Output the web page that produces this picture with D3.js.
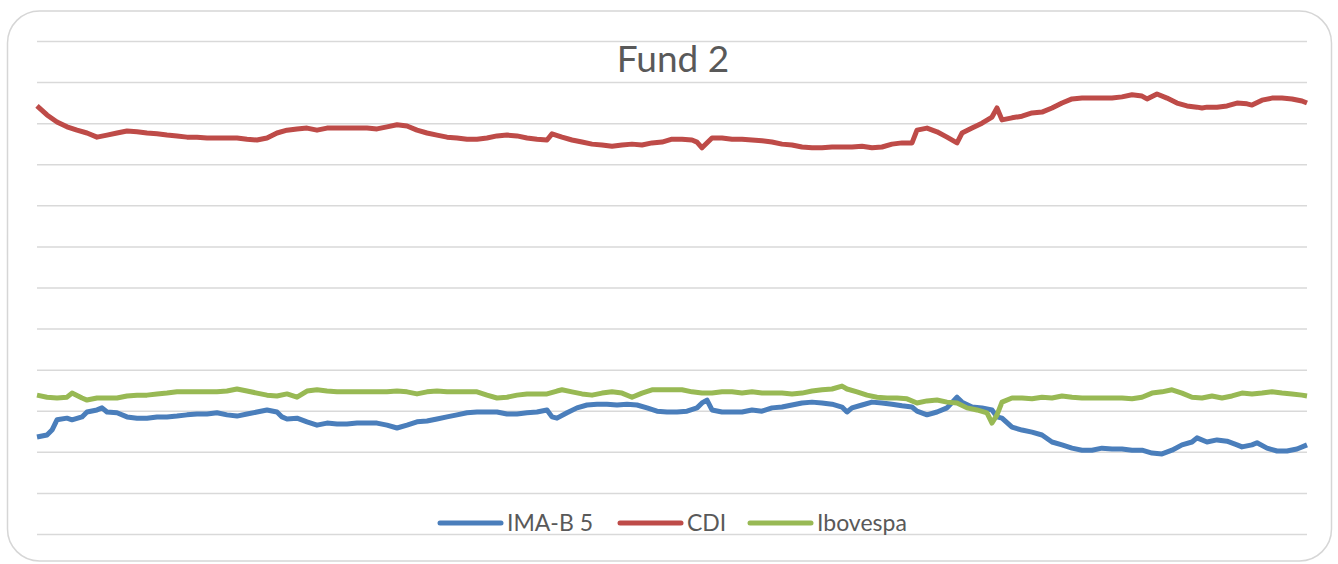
<!DOCTYPE html>
<html>
<head>
<meta charset="utf-8">
<script src="https://cdn.jsdelivr.net/npm/d3@7"></script>
<style>
  body { margin: 0; background: #fff; }
  svg { display: block; }
</style>
</head>
<body>
<svg id="board" width="1338" height="564"></svg>
<script>
// chart title and series names
let title = 'Fund 2'
let seriesNames = ['IMA-B 5', 'CDI', 'Ibovespa']
let seriesColors = ['#4a7ebb', '#be4b48', '#98b954']

// gridline values (no labels shown on the chart)
let gridTicks = d3.range(0, 121, 10)

// [day, value]
let imab5 = [
  [0,23.6],[2,24.1],[3,25.3],[4,27.8],[6,28.2],[7,27.8],[9,28.5],[10,29.7],[12,30.2],[13,30.7],
  [14,29.7],[16,29.5],[18,28.5],[20,28.2],[22,28.2],[24,28.5],[26,28.5],[28,28.7],[30,29.0],[32,29.2],
  [34,29.2],[36,29.5],[38,29.0],[40,28.7],[42,29.2],[44,29.7],[46,30.2],[48,29.7],[49,28.5],[50,28.0],
  [52,28.2],[54,27.3],[56,26.5],[58,27.0],[60,26.8],[62,26.8],[64,27.0],[66,27.0],[68,27.0],[70,26.5],
  [72,25.8],[74,26.5],[76,27.3],[78,27.5],[80,28.0],[82,28.5],[84,29.0],[86,29.5],[88,29.7],[90,29.7],
  [92,29.7],[94,29.2],[96,29.2],[98,29.5],[100,29.7],[102,30.2],[103,28.5],[104,28.2],[106,29.5],[108,30.7],
  [110,31.4],[112,31.6],[114,31.6],[116,31.4],[118,31.6],[120,31.4],[122,30.7],[124,29.9],[126,29.7],[128,29.7],
  [130,29.9],[132,30.7],[133,31.9],[134,32.6],[135,30.2],[137,29.7],[139,29.7],[141,29.7],[143,30.2],[145,29.9],
  [147,30.7],[149,30.9],[151,31.4],[153,31.9],[155,32.1],[157,31.9],[159,31.6],[161,30.9],[162,29.7],[163,30.7],
  [165,31.4],[167,32.1],[169,31.9],[171,31.6],[173,31.2],[175,30.9],[176,29.9],[178,29.0],[180,29.7],[182,30.7],
  [184,33.3],[185,32.1],[187,30.9],[189,30.7],[191,30.2],[192,28.5],[193,28.2],[195,26.0],[197,25.3],[199,24.8],
  [201,24.1],[203,22.4],[205,21.7],[207,20.9],[209,20.4],[211,20.4],[213,20.9],[215,20.7],[217,20.7],[219,20.4],
  [221,20.4],[223,19.7],[225,19.5],[227,20.4],[229,21.7],[231,22.4],[232,23.4],[234,22.4],[236,22.9],[238,22.6],
  [240,21.7],[241,21.2],[243,21.7],[244,22.2],[246,20.9],[248,20.2],[250,20.2],[252,20.7],[254,21.7]
]

let cdi = [
  [0,104.2],[2,102.0],[4,100.3],[6,99.1],[8,98.3],[10,97.6],[12,96.6],[14,97.1],[16,97.6],[18,98.1],
  [20,97.9],[22,97.6],[24,97.4],[26,97.1],[28,96.9],[30,96.6],[32,96.6],[34,96.4],[36,96.4],[38,96.4],
  [40,96.4],[42,96.1],[44,95.9],[46,96.4],[48,97.6],[50,98.3],[52,98.6],[54,98.8],[56,98.3],[58,98.8],
  [60,98.8],[62,98.8],[64,98.8],[66,98.8],[68,98.6],[70,99.1],[72,99.6],[74,99.3],[76,98.3],[78,97.6],
  [80,97.1],[82,96.6],[84,96.4],[86,96.1],[88,96.1],[90,96.4],[92,96.9],[94,97.1],[96,96.9],[98,96.4],
  [100,96.1],[102,95.9],[103,97.4],[105,96.6],[107,95.9],[109,95.4],[111,94.9],[113,94.7],[115,94.4],[117,94.7],
  [119,94.9],[121,94.7],[123,95.2],[125,95.4],[127,96.1],[129,96.1],[131,95.9],[132,95.4],[133,94.0],[135,96.4],
  [137,96.4],[139,96.1],[141,96.1],[143,95.9],[145,95.7],[147,95.4],[149,94.9],[151,94.7],[153,94.2],[155,94.0],
  [157,94.0],[159,94.2],[161,94.2],[163,94.2],[165,94.4],[167,94.0],[169,94.2],[171,94.9],[173,95.2],[175,95.2],
  [176,98.3],[178,98.8],[180,97.9],[182,96.6],[184,95.2],[185,97.6],[187,98.8],[189,100.0],[191,101.5],[192,103.7],
  [193,100.8],[195,101.3],[197,101.7],[199,102.5],[201,102.7],[203,103.7],[205,104.9],[207,105.9],[209,106.1],[211,106.1],
  [213,106.1],[215,106.1],[217,106.4],[219,106.9],[221,106.6],[222,105.9],[224,107.1],[226,106.1],[228,104.9],[230,104.2],
  [232,103.9],[233,103.7],[234,103.9],[236,103.9],[238,104.2],[240,104.9],[242,104.7],[243,104.4],[245,105.6],[247,106.1],
  [249,106.1],[251,105.9],[253,105.4],[254,104.9]
]

let ibovespa = [
  [0,33.8],[2,33.3],[4,33.1],[6,33.3],[7,34.3],[9,33.1],[10,32.6],[12,33.1],[14,33.1],[16,33.1],
  [18,33.6],[20,33.8],[22,33.8],[24,34.1],[26,34.3],[28,34.6],[30,34.6],[32,34.6],[34,34.6],[36,34.6],
  [38,34.8],[40,35.3],[42,34.8],[44,34.3],[46,33.8],[48,33.6],[50,34.1],[52,33.3],[54,34.8],[56,35.1],
  [58,34.8],[60,34.6],[62,34.6],[64,34.6],[66,34.6],[68,34.6],[70,34.6],[72,34.8],[74,34.6],[76,34.1],
  [78,34.6],[80,34.8],[82,34.6],[84,34.6],[86,34.6],[88,34.6],[90,33.8],[92,33.1],[94,33.3],[96,33.8],
  [98,34.1],[100,34.1],[102,34.1],[104,34.8],[105,35.1],[107,34.6],[109,34.1],[111,33.8],[113,34.3],[115,34.6],
  [117,34.3],[119,33.3],[121,34.3],[123,35.1],[125,35.1],[127,35.1],[129,35.1],[131,34.6],[133,34.3],[135,34.3],
  [137,34.6],[139,34.6],[141,34.3],[143,34.6],[145,34.3],[147,34.3],[149,34.3],[151,34.1],[153,34.3],[155,34.8],
  [157,35.1],[159,35.3],[161,36.0],[162,35.3],[164,34.6],[166,33.8],[168,33.3],[170,33.1],[172,33.1],[174,32.9],
  [176,31.9],[178,32.4],[180,32.6],[182,32.1],[184,31.9],[186,30.7],[188,30.2],[190,29.5],[191,27.0],[192,29.0],
  [193,32.1],[195,33.1],[197,33.1],[199,32.9],[201,33.3],[203,33.1],[205,33.6],[207,33.3],[209,33.1],[211,33.1],
  [213,33.1],[215,33.1],[217,33.1],[219,32.9],[221,33.3],[223,34.3],[225,34.6],[227,35.1],[229,34.3],[231,33.3],
  [233,33.1],[235,33.6],[237,33.1],[239,33.6],[241,34.3],[243,34.1],[245,34.3],[247,34.6],[249,34.3],[251,34.1],
  [253,33.8],[254,33.6]
]

let seriesData = [imab5, cdi, ibovespa]

let board = d3.select('#board')

// outer chart frame
board.append('rect')
  .attr('x', 7.5)
  .attr('y', 11)
  .attr('width', 1324)
  .attr('height', 550)
  .attr('rx', 32)
  .attr('fill', '#fff')
  .attr('stroke', '#d6d6d6')
  .attr('stroke-width', 1.5)

let xScale = d3.scaleLinear().domain([0, 254]).range([37, 1307])
let yScale = d3.scaleLinear().domain([0, 120]).range([534, 41])

// horizontal gridlines
let grid = board.append('g')
  .attr('transform', 'translate(37,0)')
  .call(d3.axisLeft(yScale).tickValues(gridTicks).tickSize(-1270).tickFormat(''))
grid.select('.domain').remove()
grid.selectAll('.tick line')
  .attr('stroke', '#d9d9d9')
  .attr('stroke-width', 1.5)

// title
board.append('text')
  .attr('x', 673)
  .attr('y', 72)
  .attr('text-anchor', 'middle')
  .attr('font-family', 'Lato, sans-serif')
  .attr('font-size', 37)
  .attr('fill', '#595959')
  .text(title)

// series lines
let line = d3.line()
  .x((d) => xScale(d[0]))
  .y((d) => yScale(d[1]))

board.selectAll('path.series')
  .data(seriesData)
  .enter()
  .append('path')
  .attr('class', 'series')
  .attr('d', line)
  .attr('fill', 'none')
  .attr('stroke', (d, i) => seriesColors[i])
  .attr('stroke-width', 5)
  .attr('stroke-linejoin', 'round')

// legend
let legendX = [440, 620, 750]
let legend = board.selectAll('g.legend')
  .data(seriesNames)
  .enter()
  .append('g')
  .attr('class', 'legend')
  .attr('transform', (d, i) => 'translate(' + legendX[i] + ',523)')

legend.append('line')
  .attr('x1', 0)
  .attr('x2', 61)
  .attr('stroke', (d, i) => seriesColors[i])
  .attr('stroke-width', 5)
  .attr('stroke-linecap', 'round')

legend.append('text')
  .attr('x', 67)
  .attr('y', 8)
  .attr('font-family', 'Lato, sans-serif')
  .attr('font-size', 23)
  .attr('fill', '#595959')
  .text((d) => d)
</script>
</body>
</html>
